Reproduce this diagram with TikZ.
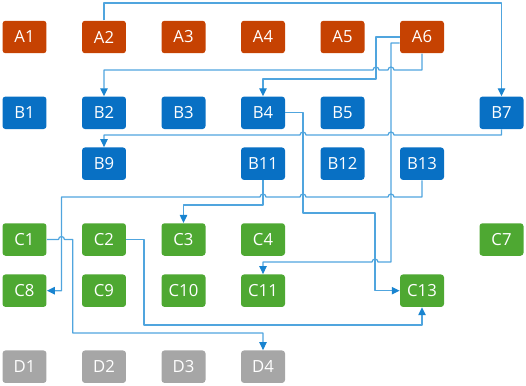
\documentclass[tikz,border=0pt]{standalone}
\usepackage{fontspec}
\setmainfont{Open Sans}
\usepackage{xcolor}
\usepackage{tikz}
\usetikzlibrary{arrows.meta,calc}

\definecolor{rowA}{RGB}{198,66,2}
\definecolor{rowB}{RGB}{8,112,196}
\definecolor{rowC}{RGB}{78,168,50}
\definecolor{rowD}{RGB}{166,166,166}
\definecolor{wire}{RGB}{80,165,222}
\definecolor{tip}{RGB}{25,132,208}

\newcommand{\hopL}[2]{-- ({#1+3},#2) arc[start angle=0,end angle=180,radius=1.7pt]}
\newcommand{\hopR}[2]{-- ({#1-3},#2) arc[start angle=180,end angle=0,radius=1.7pt]}

\begin{document}
\begin{tikzpicture}[x=0.02cm,y=-0.02cm,line join=round,
  cell/.style={rectangle,rounded corners=1.7pt,minimum width=0.88cm,minimum height=0.65cm,
    inner sep=0pt,text=white,font=\fontsize{9.5}{11}\selectfont},
  cellA/.style={cell,fill=rowA},
  cellB/.style={cell,fill=rowB},
  cellC/.style={cell,fill=rowC},
  cellD/.style={cell,fill=rowD},
  link/.style={draw=wire,line width=0.7pt,-{Triangle[length=4.5pt,width=4.2pt,color=tip]}}]
  \useasboundingbox (0,0) rectangle (526,385);
  \node[cellA] (A1) at (24.5,37) {A1};
  \node[cellA] (A2) at (104,37) {A2};
  \node[cellA] (A3) at (183.5,37) {A3};
  \node[cellA] (A4) at (263,37) {A4};
  \node[cellA] (A5) at (342.5,37) {A5};
  \node[cellA] (A6) at (422,37) {A6};
  \node[cellB] (B1) at (24.5,112.8) {B1};
  \node[cellB] (B2) at (104,112.8) {B2};
  \node[cellB] (B3) at (183.5,112.8) {B3};
  \node[cellB] (B4) at (263,112.8) {B4};
  \node[cellB] (B5) at (342.5,112.8) {B5};
  \node[cellB] (B7) at (501.5,112.8) {B7};
  \node[cellB] (B9) at (104,163.7) {B9};
  \node[cellB] (B11) at (263,163.7) {B11};
  \node[cellB] (B12) at (342.5,163.7) {B12};
  \node[cellB] (B13) at (422,163.7) {B13};
  \node[cellC] (C1) at (24.5,239.5) {C1};
  \node[cellC] (C2) at (104,239.5) {C2};
  \node[cellC] (C3) at (183.5,239.5) {C3};
  \node[cellC] (C4) at (263,239.5) {C4};
  \node[cellC] (C7) at (501.5,239.5) {C7};
  \node[cellC] (C8) at (24.5,290.7) {C8};
  \node[cellC] (C9) at (104,290.7) {C9};
  \node[cellC] (C10) at (183.5,290.7) {C10};
  \node[cellC] (C11) at (263,290.7) {C11};
  \node[cellC] (C13) at (422,290.7) {C13};
  \node[cellD] (D1) at (24.5,366.7) {D1};
  \node[cellD] (D2) at (104,366.7) {D2};
  \node[cellD] (D3) at (183.5,366.7) {D3};
  \node[cellD] (D4) at (263,366.7) {D4};
  \draw[link] (A2.north) -- (A2.north |- 0,3) -| (B7.north);
  \draw[link] (A6.south) -- (A6.south |- 0,70) \hopL{391}{70} \hopL{376}{70} -| (B2.north);
  \draw[link] (A6.west) -| (376,79) -| (B4.north);
  \draw[link] ($(A6.west)+(0,6)$) -| (391,262) \hopL{375}{262} -| (C11.north);
  \draw[link] (B7.south) -- (B7.south |- 0,135) \hopL{391}{135} \hopL{303}{135} -| (B9.north);
  \draw[link] (B4.east) -| (303,213) -- (375,213) |- (C13.west);
  \draw[link] (B13.south) -- (B13.south |- 0,197) \hopL{391}{197} \hopL{303}{197} \hopL{263}{197} -- (61.5,197) |- (C8.east);
  \draw[link] (B11.south) -- (B11.south |- 0,205) -| (C3.north);
  \draw[link] (C1.east) \hopR{61.5}{239.5} -| (72.7,333) -| (D4.north);
  \draw[link] (C2.east) -| (144,325) -| (C13.south);
\end{tikzpicture}
\end{document}
